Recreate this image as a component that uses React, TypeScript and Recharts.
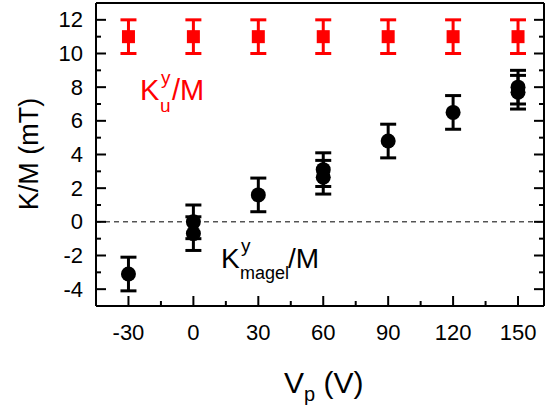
import React from "react";
import {
  ScatterChart,
  Scatter,
  XAxis,
  YAxis,
  ErrorBar,
  ReferenceLine,
} from "recharts";

// ---- data ----
const vpValues = [-30, 0, 30, 60, 90, 120, 150];
const kuValues = [11, 11, 11, 11, 11, 11, 11];
const kuErrors = [1, 1, 1, 1, 1, 1, 1];

const magelX = [-30, 0, 0, 30, 60, 60, 90, 120, 150, 150];
const magelY = [-3.1, 0.0, -0.7, 1.6, 3.1, 2.65, 4.8, 6.5, 8.0, 7.7];
const magelErrors = [1, 1, 1, 1, 1, 1, 1, 1, 1, 1];

const xTicks = [-30, -15, 0, 15, 30, 45, 60, 75, 90, 105, 120, 135, 150];
const xMajorTicks = [-30, 0, 30, 60, 90, 120, 150];
const yTicks = [-4, -3, -2, -1, 0, 1, 2, 3, 4, 5, 6, 7, 8, 9, 10, 11, 12];
const yMajorTicks = [-4, -2, 0, 2, 4, 6, 8, 10, 12];

const kuData = vpValues.map((x, i) => ({ x, y: kuValues[i], err: kuErrors[i] }));
const magelData = magelX.map((x, i) => ({ x, y: magelY[i], err: magelErrors[i] }));

const FONT = "'Liberation Sans', Arial, Helvetica, sans-serif";
const RED = "#ff0000";

const XBottomTick = (props: any) => {
  const { x, y, payload } = props;
  const v = payload.value;
  const major = xMajorTicks.includes(v);
  return (
    <g>
      <line x1={x} x2={x} y1={y} y2={y - (major ? 10 : 5)} stroke="#000" strokeWidth={2} />
      {major && (
        <text x={x} y={y + 34} textAnchor="middle" fontSize={22} fontFamily={FONT} fill="#000">
          {v}
        </text>
      )}
    </g>
  );
};

const XTopTick = (props: any) => {
  const { x, y, payload } = props;
  const major = xMajorTicks.includes(payload.value);
  return <line x1={x} x2={x} y1={y} y2={y + (major ? 10 : 5)} stroke="#000" strokeWidth={2} />;
};

const YLeftTick = (props: any) => {
  const { x, y, payload } = props;
  const v = payload.value;
  const major = yMajorTicks.includes(v);
  return (
    <g>
      <line x1={x} x2={x + (major ? 10 : 5)} y1={y} y2={y} stroke="#000" strokeWidth={2} />
      {major && (
        <text x={x - 13} y={y + 7.5} textAnchor="end" fontSize={22} fontFamily={FONT} fill="#000">
          {v}
        </text>
      )}
    </g>
  );
};

const YRightTick = (props: any) => {
  const { x, y, payload } = props;
  const major = yMajorTicks.includes(payload.value);
  return <line x1={x} x2={x - (major ? 10 : 5)} y1={y} y2={y} stroke="#000" strokeWidth={2} />;
};

const SquareShape = (props: any) => {
  const { cx, cy } = props;
  return <rect x={cx - 6.5} y={cy - 6.5} width={13} height={13} fill={RED} />;
};

const CircleShape = (props: any) => {
  const { cx, cy } = props;
  return <circle cx={cx} cy={cy} r={7.5} fill="#000" />;
};

const axisLineStyle = { stroke: "#000", strokeWidth: 2 };

export default function App() {
  return (
    <div style={{ position: "absolute", left: 0, top: 0, width: 545, height: 405 }}>
      <ScatterChart
        width={545}
        height={405}
        margin={{ top: 0, right: 0, bottom: 0, left: 0 }}
      >
        <XAxis
          xAxisId="b"
          dataKey="x"
          type="number"
          orientation="bottom"
          domain={[-45, 162]}
          ticks={xTicks}
          interval={0}
          height={99}
          tickSize={0}
          tickMargin={0}
          tickLine={false}
          axisLine={axisLineStyle}
          tick={<XBottomTick />}
          allowDataOverflow
        />
        <XAxis
          xAxisId="t"
          type="number"
          orientation="top"
          domain={[-45, 162]}
          ticks={xTicks}
          interval={0}
          height={3}
          tickSize={0}
          tickMargin={0}
          tickLine={false}
          axisLine={axisLineStyle}
          tick={<XTopTick />}
          allowDataOverflow
        />
        <YAxis
          yAxisId="l"
          dataKey="y"
          type="number"
          orientation="left"
          domain={[-5, 13]}
          ticks={yTicks}
          interval={0}
          width={96}
          tickSize={0}
          tickMargin={0}
          tickLine={false}
          axisLine={axisLineStyle}
          tick={<YLeftTick />}
          allowDataOverflow
        />
        <YAxis
          yAxisId="r"
          type="number"
          orientation="right"
          domain={[-5, 13]}
          ticks={yTicks}
          interval={0}
          width={1}
          tickSize={0}
          tickMargin={0}
          tickLine={false}
          axisLine={axisLineStyle}
          tick={<YRightTick />}
          allowDataOverflow
        />
        <ReferenceLine
          xAxisId="b"
          yAxisId="l"
          y={0}
          stroke="#000"
          strokeWidth={1}
          strokeDasharray="5 4"
        />
        <Scatter
          xAxisId="b"
          yAxisId="l"
          data={kuData}
          dataKey="y"
          shape={<SquareShape />}
          isAnimationActive={false}
        >
          <ErrorBar
            dataKey="err"
            direction="y"
            width={8}
            strokeWidth={3}
            stroke={RED}
            isAnimationActive={false}
          />
        </Scatter>
        <Scatter
          xAxisId="b"
          yAxisId="l"
          data={magelData}
          dataKey="y"
          shape={<CircleShape />}
          isAnimationActive={false}
        >
          <ErrorBar
            dataKey="err"
            direction="y"
            width={8}
            strokeWidth={3}
            stroke="#000"
            isAnimationActive={false}
          />
        </Scatter>
      </ScatterChart>
      <svg
        width={545}
        height={405}
        style={{ position: "absolute", left: 0, top: 0, pointerEvents: "none" }}
      >
        {/* y axis title */}
        <text
          transform="translate(38,154) rotate(-90)"
          textAnchor="middle"
          fontSize={27}
          fontFamily={FONT}
          fill="#000"
        >
          K/M (mT)
        </text>
        {/* x axis title */}
        <text x={284} y={393} fontSize={30} fontFamily={FONT} fill="#000">
          V
          <tspan dy={8} fontSize={20}>p</tspan>
          <tspan dy={-8} fontSize={30}>{"\u00A0(V)"}</tspan>
        </text>
        {/* red annotation */}
        <g fontFamily={FONT} fill={RED}>
          <text x={140} y={100} fontSize={29}>K</text>
          <text x={161} y={84} fontSize={19}>y</text>
          <text x={160} y={112} fontSize={19}>u</text>
          <text x={172} y={100} fontSize={29}>/M</text>
        </g>
        {/* black annotation */}
        <g fontFamily={FONT} fill="#000">
          <text x={221} y={268} fontSize={28}>K</text>
          <text x={241} y={252} fontSize={19}>y</text>
          <text x={240} y={279} fontSize={18}>magel</text>
          <text x={288} y={268} fontSize={28}>/M</text>
        </g>
      </svg>
    </div>
  );
}
